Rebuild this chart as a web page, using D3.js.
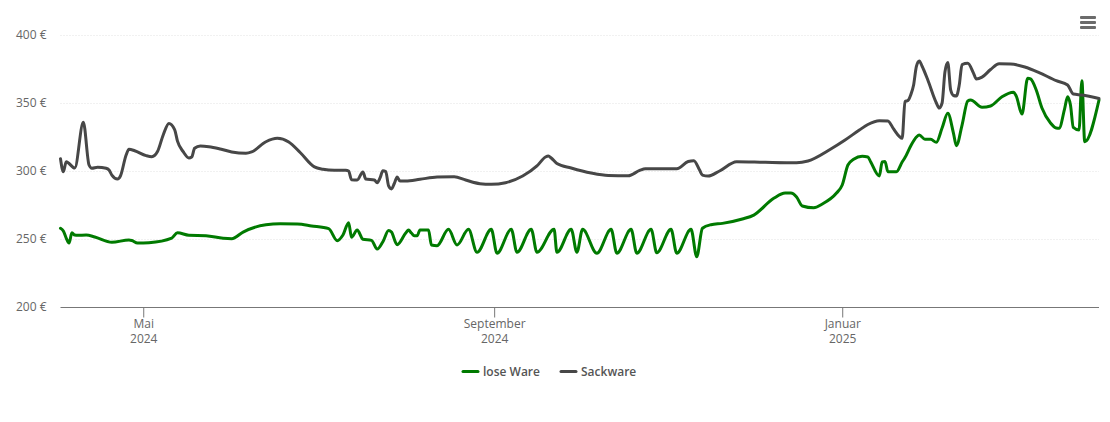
<!DOCTYPE html>
<html>
<head>
<meta charset="utf-8">
<script src="https://cdn.jsdelivr.net/npm/d3@7"></script>
<style>
  html, body { margin: 0; padding: 0; background: #fff; }
  svg { display: block; font-family: "Open Sans", sans-serif; }
  .tick text { font-family: "Open Sans", sans-serif; font-size: 12px; fill: #666; }
  .grid line { stroke: #e3e3e3; stroke-dasharray: 1 2; }
  .legend text { font-size: 12px; font-weight: 600; fill: #555; }
</style>
</head>
<body>
<svg width="1110" height="422"></svg>
<script>
// Prices per series, days counted from the first day of the chart
const startDate = "2024-04-02";
const endDate = "2025-04-01";

const looseDays = [0,1,2,3,4,5,6,9,12,18,24,25,27,31,39,41,45,51,57,60,64,72,77,83,88,94,97,99,101,102,104,106,109,111,113,115,116,118,121,122,123,124,125,126,129,130,132,136,139,143,146,151,153,158,160,165,167,173,174,179,181,183,188,193,195,200,202,207,209,214,216,221,223,225,228,232,239,243,250,254,256,258,260,264,267,272,274,276,278,281,283,284,287,288,289,290,293,295,296,298,300,301,303,305,307,309,311,313,314,316,318,319,323,326,330,334,335,337,339,340,342,344,347,349,350,352,353,354,355,357,358,359,364];
const loosePrices = [257.9,255.9,250.7,247,254.6,252.9,252.7,252.9,251.5,247.6,249.3,248.9,247,247.3,250.7,254.6,252.7,252.4,250.5,250.2,255.1,260.5,261.2,261,259.6,257.6,248.8,252.9,262,251.3,256.6,249.8,249,242.6,248,256.3,255.1,245.8,254.4,256.6,254.4,252.4,252.4,256.6,256.6,245.6,245.1,257.1,245.6,257.1,240.2,257.1,239.5,257.1,240.2,257.1,240.2,257.1,240.2,257.1,240.2,257.1,239.5,257.1,239.5,257.1,239.5,257.1,239.9,257.1,239.5,257.1,237,257.9,260.5,261.5,264.7,267.6,279.9,283.8,283.8,280.9,274.3,273,275.7,283.8,289.7,304.4,308.6,310.8,310.3,306.6,296.3,306.6,307,299.5,299.5,306.6,309.9,318.4,325,326.5,323.3,323.3,321.1,331.6,342.4,327.7,318.6,333.8,351.5,352.2,346.8,347.8,354.6,357.9,355.1,341.9,368.2,367.7,359.6,346.3,335.3,331.6,331.4,346.3,354.6,348.5,332,330.1,366.4,321.5,352.2];

const sackDays = [0,1,2,5,8,10,11,13,16,17,18,20,21,23,24,26,30,32,34,36,38,40,41,43,45,46,47,49,52,56,60,65,67,72,76,80,84,89,92,96,100,101,102,104,106,107,110,111,112,113,114,115,116,117,118,119,121,126,132,138,142,147,151,156,162,167,170,171,172,174,179,186,192,199,203,205,216,220,222,224,225,227,231,237,247,258,262,270,275,280,283,287,290,292,294,295,296,297,298,299,300,301,302,304,307,308,309,310,311,312,313,314,315,316,318,320,321,323,326,329,333,338,343,349,353,355,358,364];
const sackPrices = [309,299.5,306.8,302.2,335.8,304.4,302,302.7,302,300.7,297,294.1,296.3,311.8,316,314.9,311.3,310.5,314.3,326.5,335,330.5,322,314.2,309.6,310.3,316.7,318.4,317.9,316.2,314,313,314,321.5,324,321.3,313.6,303,301.3,300.5,300.5,300,293.6,293.4,299.3,294.1,293.4,291.4,294.9,300.2,299.6,289,286.8,290.8,295.6,292.6,292.6,293.9,295.6,295.8,293.4,290.7,290.2,291.4,296.3,303.7,310.3,311,309.6,305.5,302.2,298.5,296.7,296.5,300.4,301.7,301.7,307,307.6,300.7,297,296.3,300,306.8,306.4,306.1,307.4,316.2,322.8,330.1,334.2,337,336.8,330.9,325.4,324,351,351.8,355.9,363,377,380.9,377,366.9,350,346.3,350,372.8,379.8,359.6,355.5,355.1,363,378.3,379.2,372,367.6,369,374.6,378.9,378.7,376.5,372.4,366.4,363.2,356.6,355.9,353.3];

const seriesNames = ["lose Ware", "Sackware"];
const seriesColors = ["#007a00", "#474747"];

const yTicks = [200, 250, 300, 350, 400];
const xTickDates = ["2024-05-01", "2024-09-01", "2025-01-01"];
const xTickMonths = ["Mai", "September", "Januar"];
const xTickYears = ["2024", "2024", "2025"];

const svg = d3.select("svg");

// Plot area
const plotLeft = 60.5, plotRight = 1099, plotTop = 35, plotBottom = 307;

const x = d3.scaleUtc()
  .domain([new Date(startDate), new Date(endDate)])
  .range([plotLeft, plotRight]);

const y = d3.scaleLinear()
  .domain([200, 400])
  .range([plotBottom, plotTop]);

// Grid lines
svg.append("g")
  .attr("class", "grid")
  .selectAll("line")
  .data(yTicks.slice(1))
  .enter()
  .append("line")
  .attr("x1", plotLeft)
  .attr("x2", plotRight)
  .attr("y1", (d) => y(d) + 0.5)
  .attr("y2", (d) => y(d) + 0.5);

// Y axis
const yAxis = svg.append("g")
  .attr("transform", `translate(${plotLeft},-0.5)`)
  .call(d3.axisLeft(y).tickValues(yTicks).tickSize(0).tickPadding(14).tickFormat((d) => `${d} €`));
yAxis.select(".domain").remove();

// X axis, two lines per tick
const xAxis = svg.append("g")
  .attr("transform", `translate(0,${plotBottom + 0.5})`)
  .call(d3.axisBottom(x).tickValues(xTickDates.map((d) => new Date(d))).tickSize(10).tickFormat(""));
xAxis.select(".domain").attr("d", `M${plotLeft},0H${plotRight}`).attr("stroke", "#777");
xAxis.selectAll(".tick line").attr("stroke", "#777");
xAxis.selectAll(".tick text").remove();
xAxis.selectAll(".tick").each(function (d, i) {
  const label = d3.select(this).append("text").attr("text-anchor", "middle");
  label.append("tspan").attr("x", 0).attr("y", 20).text(xTickMonths[i]);
  label.append("tspan").attr("x", 0).attr("y", 35).text(xTickYears[i]);
});

// Lines
const line = d3.line()
  .x((d) => x(d3.utcDay.offset(new Date(startDate), d[0])))
  .y((d) => y(d[1]))
  .curve(d3.curveMonotoneX);

const series = [
  d3.zip(looseDays, loosePrices),
  d3.zip(sackDays, sackPrices),
];

svg.selectAll("path.series")
  .data(series)
  .enter()
  .append("path")
  .attr("class", "series")
  .attr("fill", "none")
  .attr("stroke", (d, i) => seriesColors[i])
  .attr("stroke-width", 3)
  .attr("stroke-linejoin", "round")
  .attr("stroke-linecap", "round")
  .attr("d", line);

// Legend
const legendX = [463, 561];
const legend = svg.selectAll("g.legend")
  .data(seriesNames)
  .enter()
  .append("g")
  .attr("class", "legend")
  .attr("transform", (d, i) => `translate(${legendX[i]},371.5)`);
legend.append("line")
  .attr("x2", 15)
  .attr("stroke", (d, i) => seriesColors[i])
  .attr("stroke-width", 3)
  .attr("stroke-linecap", "round");
legend.append("text")
  .attr("x", 20)
  .attr("dy", "0.35em")
  .text((d) => d);

// Menu icon
svg.append("g")
  .selectAll("rect")
  .data([0, 1, 2])
  .enter()
  .append("rect")
  .attr("x", 1080)
  .attr("y", (d) => 16 + d * 5)
  .attr("width", 16)
  .attr("height", 3)
  .attr("rx", 1)
  .attr("fill", "#6b6b6b");
</script>
</body>
</html>
